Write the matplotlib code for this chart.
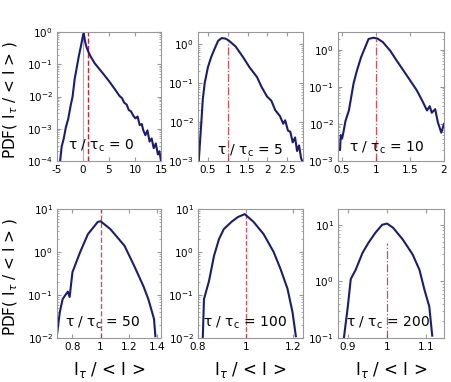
import numpy as np
from matplotlib import pyplot as plt

# tau / tau_c = 0
x_t0 = [-4.4, -4.1, -3.7, -3.3, -2.85, -2.4, -2.0, -1.6, -1.2, -0.8, -0.35, 0.0, 0.15, 0.4, 0.7,
        1.0, 1.5, 2.25, 3.0, 4.1, 5.0, 6.0, 7.0, 7.5, 7.9, 8.4, 8.8, 9.2, 9.7, 10.1, 10.5, 10.9,
        11.3, 11.6, 12.0, 12.4, 12.8, 13.2, 13.6, 14.0, 14.4, 14.7, 15.0]
y_t0 = [1.0e-4, 2.8e-4, 5.0e-4, 1.1e-3, 2.0e-3, 5.0e-3, 1.0e-2, 3.5e-2, 7.9e-2, 0.18, 0.40, 0.79, 0.93,
        0.50, 0.33, 0.25, 0.17, 0.107, 0.076, 0.046, 0.030, 0.018, 0.0105, 0.0089, 0.0065, 0.0056,
        0.0038, 0.0035, 0.0025, 0.0021, 0.0024, 0.0013, 0.0014, 8.9e-4, 6.3e-4, 8.9e-4, 4.0e-4,
        5.0e-4, 2.5e-4, 3.5e-4, 1.6e-4, 2.0e-4, 1.0e-4]

# tau / tau_c = 5
x_t5 = [0.27, 0.30, 0.34, 0.37, 0.42, 0.50, 0.58, 0.68, 0.76, 0.85, 0.95, 1.03, 1.2, 1.39, 1.55,
        1.74, 1.85, 1.99, 2.1, 2.2, 2.32, 2.4, 2.45, 2.52, 2.58, 2.64, 2.7, 2.75, 2.8, 2.85, 2.88]
y_t5 = [1.0e-3, 3.0e-3, 1.2e-2, 3.7e-2, 0.10, 0.25, 0.45, 0.79, 1.2, 1.4, 1.35, 1.2, 0.85, 0.45, 0.25,
        0.14, 0.08, 0.045, 0.035, 0.02, 0.014, 0.009, 0.011, 0.006, 0.0056, 0.003, 0.004, 0.0018,
        0.0025, 0.0012, 1.0e-3]

# tau / tau_c = 10
x_t10 = [0.47, 0.48, 0.50, 0.52, 0.55, 0.60, 0.67, 0.72, 0.78, 0.89, 0.96, 1.02, 1.1, 1.21, 1.3,
         1.40, 1.5, 1.60, 1.68, 1.75, 1.79, 1.82, 1.87, 1.91, 1.96, 2.0]
y_t10 = [2.0e-3, 5.0e-3, 4.0e-3, 6.0e-3, 1.2e-2, 0.023, 0.126, 0.28, 0.63, 1.95, 2.1, 2.0, 1.6, 0.93,
         0.52, 0.28, 0.15, 0.08, 0.042, 0.023, 0.03, 0.02, 0.025, 0.011, 5.8e-3, 0.01]

# tau / tau_c = 50
x_t50 = [0.687, 0.71, 0.73, 0.745, 0.767, 0.78, 0.80, 0.855, 0.91, 0.98, 1.0, 1.07, 1.17, 1.24,
         1.305, 1.34, 1.38, 1.39]
y_t50 = [0.01, 0.04, 0.08, 0.095, 0.12, 0.09, 0.34, 1.0, 2.6, 5.0, 5.2, 3.4, 1.4, 0.47, 0.16, 0.08,
         0.028, 0.011]

# tau / tau_c = 100
x_t100 = [0.82, 0.825, 0.846, 0.867, 0.888, 0.908, 0.94, 0.967, 0.996, 1.033, 1.075, 1.117, 1.146,
          1.175, 1.196, 1.21]
y_t100 = [0.01, 0.08, 0.21, 0.81, 2.0, 3.4, 5.0, 6.5, 7.6, 5.0, 2.6, 1.0, 0.40, 0.14, 0.04, 0.011]

# tau / tau_c = 200
x_t200 = [0.89, 0.90, 0.9075, 0.92, 0.9375, 0.9525, 0.97, 0.9875, 1.0, 1.015, 1.04, 1.065, 1.0825,
          1.095, 1.1075, 1.115]
y_t200 = [0.1, 0.36, 1.1, 1.6, 3.2, 4.8, 7.2, 10.0, 10.5, 8.9, 5.5, 3.0, 1.6, 0.72, 0.36, 0.11]

panels = [
    (x_t0, y_t0, "0", (-5, 15), (1e-4, 1), [-5, 0, 5, 10, 15], None, "--"),
    (x_t5, y_t5, "5", (0.25, 2.9), (1e-3, 2), [0.5, 1, 1.5, 2, 2.5], 1.2, "-."),
    (x_t10, y_t10, "10", (0.44, 2.0), (1e-3, 3), [0.5, 1, 1.5, 2], 2.0, "-."),
    (x_t50, y_t50, "50", (0.69, 1.43), (1e-2, 10), [0.8, 1, 1.2, 1.4], None, "--"),
    (x_t100, y_t100, "100", (0.8, 1.24), (1e-2, 10), [0.8, 1, 1.2], 7.6, "--"),
    (x_t200, y_t200, "200", (0.875, 1.145), (1e-1, 19), [0.9, 1, 1.1], 4.8, "-."),
]

text_pos = [(0.42, 0.12), (0.5, 0.08), (0.46, 0.1), (0.44, 0.12), (0.45, 0.12), (0.47, 0.12)]

W, H = 451, 382
fig = plt.figure(figsize=(W / 100, H / 100), dpi=100)
lefts = [57, 198, 338]
widths = [104, 105, 106]
tops = [32, 209]
ah = 129

line_col = "#1c1c78"
red = "#cc2233"

for i, (xs, ys, lab, xl, yl, xt, vtop, ls) in enumerate(panels):
    r, c = divmod(i, 3)
    ax = fig.add_axes([lefts[c] / W, 1 - (tops[r] + ah) / H, widths[c] / W, ah / H])
    ax.set_yscale("log")
    ax.set_xlim(xl)
    ax.set_ylim(yl)
    if i == 0:
        ax.axvline(0, color="#b0b0b0", lw=0.8)
    if vtop is None:
        ax.axvline(1, color=red, lw=1.0, ls=ls, alpha=0.8 if i == 3 else 1)
    else:
        ax.vlines(1, yl[0], vtop, color=red, lw=0.9, ls=ls, alpha=0.8)
    ax.plot(xs, ys, color=line_col, lw=1.5)
    ax.set_xticks(xt)
    ax.set_xticklabels([("%g" % v) for v in xt])
    ax.tick_params(which="both", direction="in", top=True, right=True, labelsize=7.5,
                   color="#999999", pad=3)
    ax.tick_params(which="major", length=3)
    ax.tick_params(which="minor", length=1.5)
    for s in ax.spines.values():
        s.set_color("#999999")
        s.set_linewidth(0.8)
    tx, ty = text_pos[i]
    ax.text(tx, ty, r"τ / τ$_{\rm c}$ = " + lab, transform=ax.transAxes, ha="center",
            va="center", fontsize=10)
    if c == 0:
        ax.set_ylabel(r"PDF( I$_\tau$ / < I > )", fontsize=11)
        ax.yaxis.set_label_coords(-0.36, 0.47)
    if r == 1:
        ax.set_xlabel(r"I$_\tau$ / < I >", fontsize=12)
        ax.xaxis.set_label_coords(0.5, -0.17)

fig.savefig("out.png", dpi=100)
